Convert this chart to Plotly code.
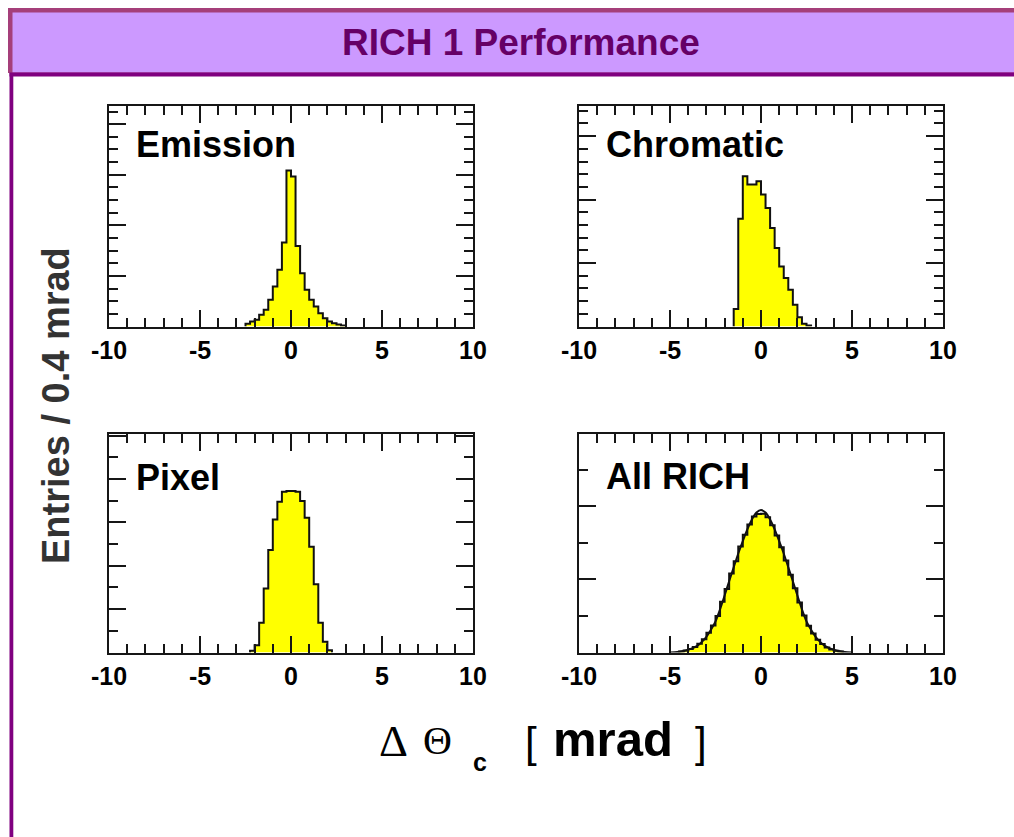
import numpy as np
import plotly.graph_objects as go

W, H = 1014, 837
BIN_WIDTH = 0.25  # mrad per histogram bin

# ---------------- data (arbitrary entry units) ----------------
panel_names = ["Emission", "Chromatic", "Pixel", "All RICH"]

emission_first_edge = -2.5
emission_counts = [53, 99, 132, 231, 329, 527, 791, 1120, 1660, 3083, 2964,
                   1594, 1054, 725, 527, 395, 264, 165, 99, 66, 40, 20]

chromatic_first_edge = -1.5
chromatic_counts = [274, 1700, 2368, 2237, 2237, 2289, 2079, 1868, 1553, 1237,
                    947, 763, 579, 342, 147, 42, 16]

pixel_first_edge = -2.25
pixel_counts = [38, 170, 685, 1477, 2362, 3069, 3477, 3708, 3723, 3723, 3708,
                3492, 3108, 2438, 1577, 685, 246, 54]

allrich_first_edge = -4.5
allrich_counts = [25, 55, 95, 150, 240, 360, 540, 740, 1000, 1390, 1740, 2160,
                  2500, 2900, 3220, 3500, 3720, 3790, 3800, 3700, 3480, 3200,
                  2880, 2520, 2130, 1760, 1370, 1010, 730, 520, 350, 230, 140,
                  85, 50, 25]

# fitted curve on the "All RICH" panel
fit_x = [-5.0, -4.75, -4.5, -4.25, -4.0, -3.75, -3.5, -3.25, -3.0, -2.75, -2.5,
         -2.25, -2.0, -1.75, -1.5, -1.25, -1.0, -0.75, -0.5, -0.25, 0.0,
         0.25, 0.5, 0.75, 1.0, 1.25, 1.5, 1.75, 2.0, 2.25, 2.5, 2.75, 3.0,
         3.25, 3.5, 3.75, 4.0, 4.25, 4.5, 4.75, 5.0]
fit_y = [0, 8, 20, 40, 75, 120, 180, 290, 430, 620, 850,
         1180, 1560, 1950, 2330, 2710, 3050, 3370, 3640, 3830, 3900,
         3830, 3640, 3370, 3050, 2710, 2330, 1950, 1560, 1180, 850, 620, 430,
         290, 180, 120, 75, 40, 20, 8, 0]

x_tick_vals = [-10, -5, 0, 5, 10]
x_tick_text = ["-10", "-5", "0", "5", "10"]

title_text = "RICH 1 Performance"
y_title = "Entries / 0.4 mrad"

# ---------------- helpers ----------------
def px(x):
    return x / W


def py(y):
    return 1 - y / H


SANS = "Liberation Sans, Arial, Helvetica, sans-serif"
SERIF = "Liberation Serif, Times New Roman, serif"
AX = "#161616"

panels = [
    dict(name=panel_names[0], first=emission_first_edge, counts=emission_counts,
         box=(109, 106, 473, 326.5), yr=4360, dt=1000, mdt=250, lab_dy=38.5),
    dict(name=panel_names[1], first=chromatic_first_edge, counts=chromatic_counts,
         box=(579, 106, 943, 326.5), yr=3475, dt=1000, mdt=200, lab_dy=38.5),
    dict(name=panel_names[2], first=pixel_first_edge, counts=pixel_counts,
         box=(109, 434, 473, 652.5), yr=5040, dt=1000, mdt=500, lab_dy=43),
    dict(name=panel_names[3], first=allrich_first_edge, counts=allrich_counts,
         box=(579, 434, 943, 652.5), yr=5980, dt=2000, mdt=1000, lab_dy=42.5),
]

fig = go.Figure()
layout_axes = {}
annotations = []

for i, p in enumerate(panels):
    n = i + 1
    xa = "x" if n == 1 else f"x{n}"
    ya = "y" if n == 1 else f"y{n}"
    counts = list(p["counts"])
    edges = p["first"] + BIN_WIDTH * np.arange(len(counts) + 1)
    xs = [edges[0]] + list(edges[:-1]) + [edges[-1]]
    ys = [0] + counts + [0]
    fig.add_trace(go.Scatter(
        x=xs, y=ys, mode="lines", line=dict(shape="hv", color="#111111", width=2),
        fill="toself", fillcolor="#ffff00", xaxis=xa, yaxis=ya,
        showlegend=False, hoverinfo="skip"))

    x0, y0, x1, y1 = p["box"]
    layout_axes["xaxis" if n == 1 else f"xaxis{n}"] = dict(
        domain=[px(x0), px(x1)], anchor=ya, range=[-10, 10], automargin=False,
        tickmode="array", tickvals=x_tick_vals, ticktext=x_tick_text,
        ticks="inside", ticklen=17, tickwidth=2, tickcolor=AX,
        minor=dict(tickmode="linear", tick0=0, dtick=1, ticks="inside",
                   ticklen=9, tickwidth=2, tickcolor=AX),
        showline=True, linecolor=AX, linewidth=2, mirror="allticks",
        showgrid=False, zeroline=False, fixedrange=True,
        tickfont=dict(family=SANS, size=25, color="#000000", weight="bold"),
    )
    layout_axes["yaxis" if n == 1 else f"yaxis{n}"] = dict(
        domain=[py(y1), py(y0)], anchor=xa, range=[0, p["yr"]], automargin=False,
        tickmode="linear", tick0=0, dtick=p["dt"], showticklabels=False,
        ticks="inside", ticklen=17, tickwidth=2, tickcolor=AX,
        minor=dict(tickmode="linear", tick0=0, dtick=p["mdt"], ticks="inside",
                   ticklen=9, tickwidth=2, tickcolor=AX),
        showline=True, linecolor=AX, linewidth=2, mirror="allticks",
        showgrid=False, zeroline=False, fixedrange=True,
    )
    # panel label
    annotations.append(dict(
        text=p["name"], xref="paper", yref="paper",
        x=px(x0 + 25), y=py(y0 + p["lab_dy"]), xanchor="left", yanchor="middle",
        showarrow=False, font=dict(family=SANS, size=36, color="#000000", weight="bold")))

# fit curve on All RICH
fig.add_trace(go.Scatter(x=fit_x, y=fit_y, mode="lines", xaxis="x4", yaxis="y4",
                         line=dict(color="#111111", width=2, shape="spline", smoothing=0.6),
                         showlegend=False, hoverinfo="skip"))

# header title
annotations.append(dict(
    text=title_text, xref="paper", yref="paper", x=px(521), y=py(42),
    xanchor="center", yanchor="middle", showarrow=False,
    font=dict(family=SANS, size=37, color="#660066", weight="bold")))

# y-axis title
annotations.append(dict(
    text=y_title, xref="paper", yref="paper", x=px(56), y=py(406),
    xanchor="center", yanchor="middle", showarrow=False, textangle=-90,
    font=dict(family=SANS, size=38, color="#333333", weight="bold")))

# x-axis title pieces
annotations += [
    dict(text="Δ", xref="paper", yref="paper", x=px(393), y=py(741),
         xanchor="center", yanchor="middle", showarrow=False,
         font=dict(family=SERIF, size=45, color="#000000")),
    dict(text="Θ", xref="paper", yref="paper", x=px(437), y=py(740),
         xanchor="center", yanchor="middle", showarrow=False,
         font=dict(family=SERIF, size=40, color="#000000")),
    dict(text="c", xref="paper", yref="paper", x=px(480), y=py(762),
         xanchor="center", yanchor="middle", showarrow=False,
         font=dict(family=SANS, size=25, color="#000000", weight="bold")),
    dict(text="[", xref="paper", yref="paper", x=px(531), y=py(742),
         xanchor="center", yanchor="middle", showarrow=False,
         font=dict(family=SANS, size=42, color="#000000")),
    dict(text="mrad", xref="paper", yref="paper", x=px(612.5), y=py(739),
         xanchor="center", yanchor="middle", showarrow=False,
         font=dict(family=SANS, size=49, color="#000000", weight="bold")),
    dict(text="]", xref="paper", yref="paper", x=px(701), y=py(742),
         xanchor="center", yanchor="middle", showarrow=False,
         font=dict(family=SANS, size=42, color="#000000")),
]

shapes = [
    dict(type="rect", xref="paper", yref="paper", x0=px(8), x1=1, y0=py(73), y1=py(8),
         fillcolor="#a53f7a", line=dict(width=0), layer="below"),
    dict(type="rect", xref="paper", yref="paper", x0=px(12.5), x1=1, y0=py(72.5), y1=py(12.5),
         fillcolor="#cc99ff", line=dict(width=0), layer="below"),
    dict(type="rect", xref="paper", yref="paper", x0=px(9.5), x1=1, y0=py(76.5), y1=py(72.5),
         fillcolor="#800080", line=dict(width=0), layer="below"),
    dict(type="rect", xref="paper", yref="paper", x0=px(9.5), x1=px(13.3), y0=0, y1=py(73),
         fillcolor="#800080", line=dict(width=0), layer="below"),
]

fig.update_layout(
    template="none",
    width=W, height=H, autosize=False,
    margin=dict(l=0, r=0, t=0, b=0, pad=0, autoexpand=False),
    paper_bgcolor="#ffffff", plot_bgcolor="#ffffff",
    showlegend=False, annotations=annotations, shapes=shapes,
    **layout_axes,
)

fig.write_html("out.html",
               config={"displayModeBar": False, "responsive": False},
               post_script="document.body.style.margin='0';document.body.style.overflow='hidden';")
